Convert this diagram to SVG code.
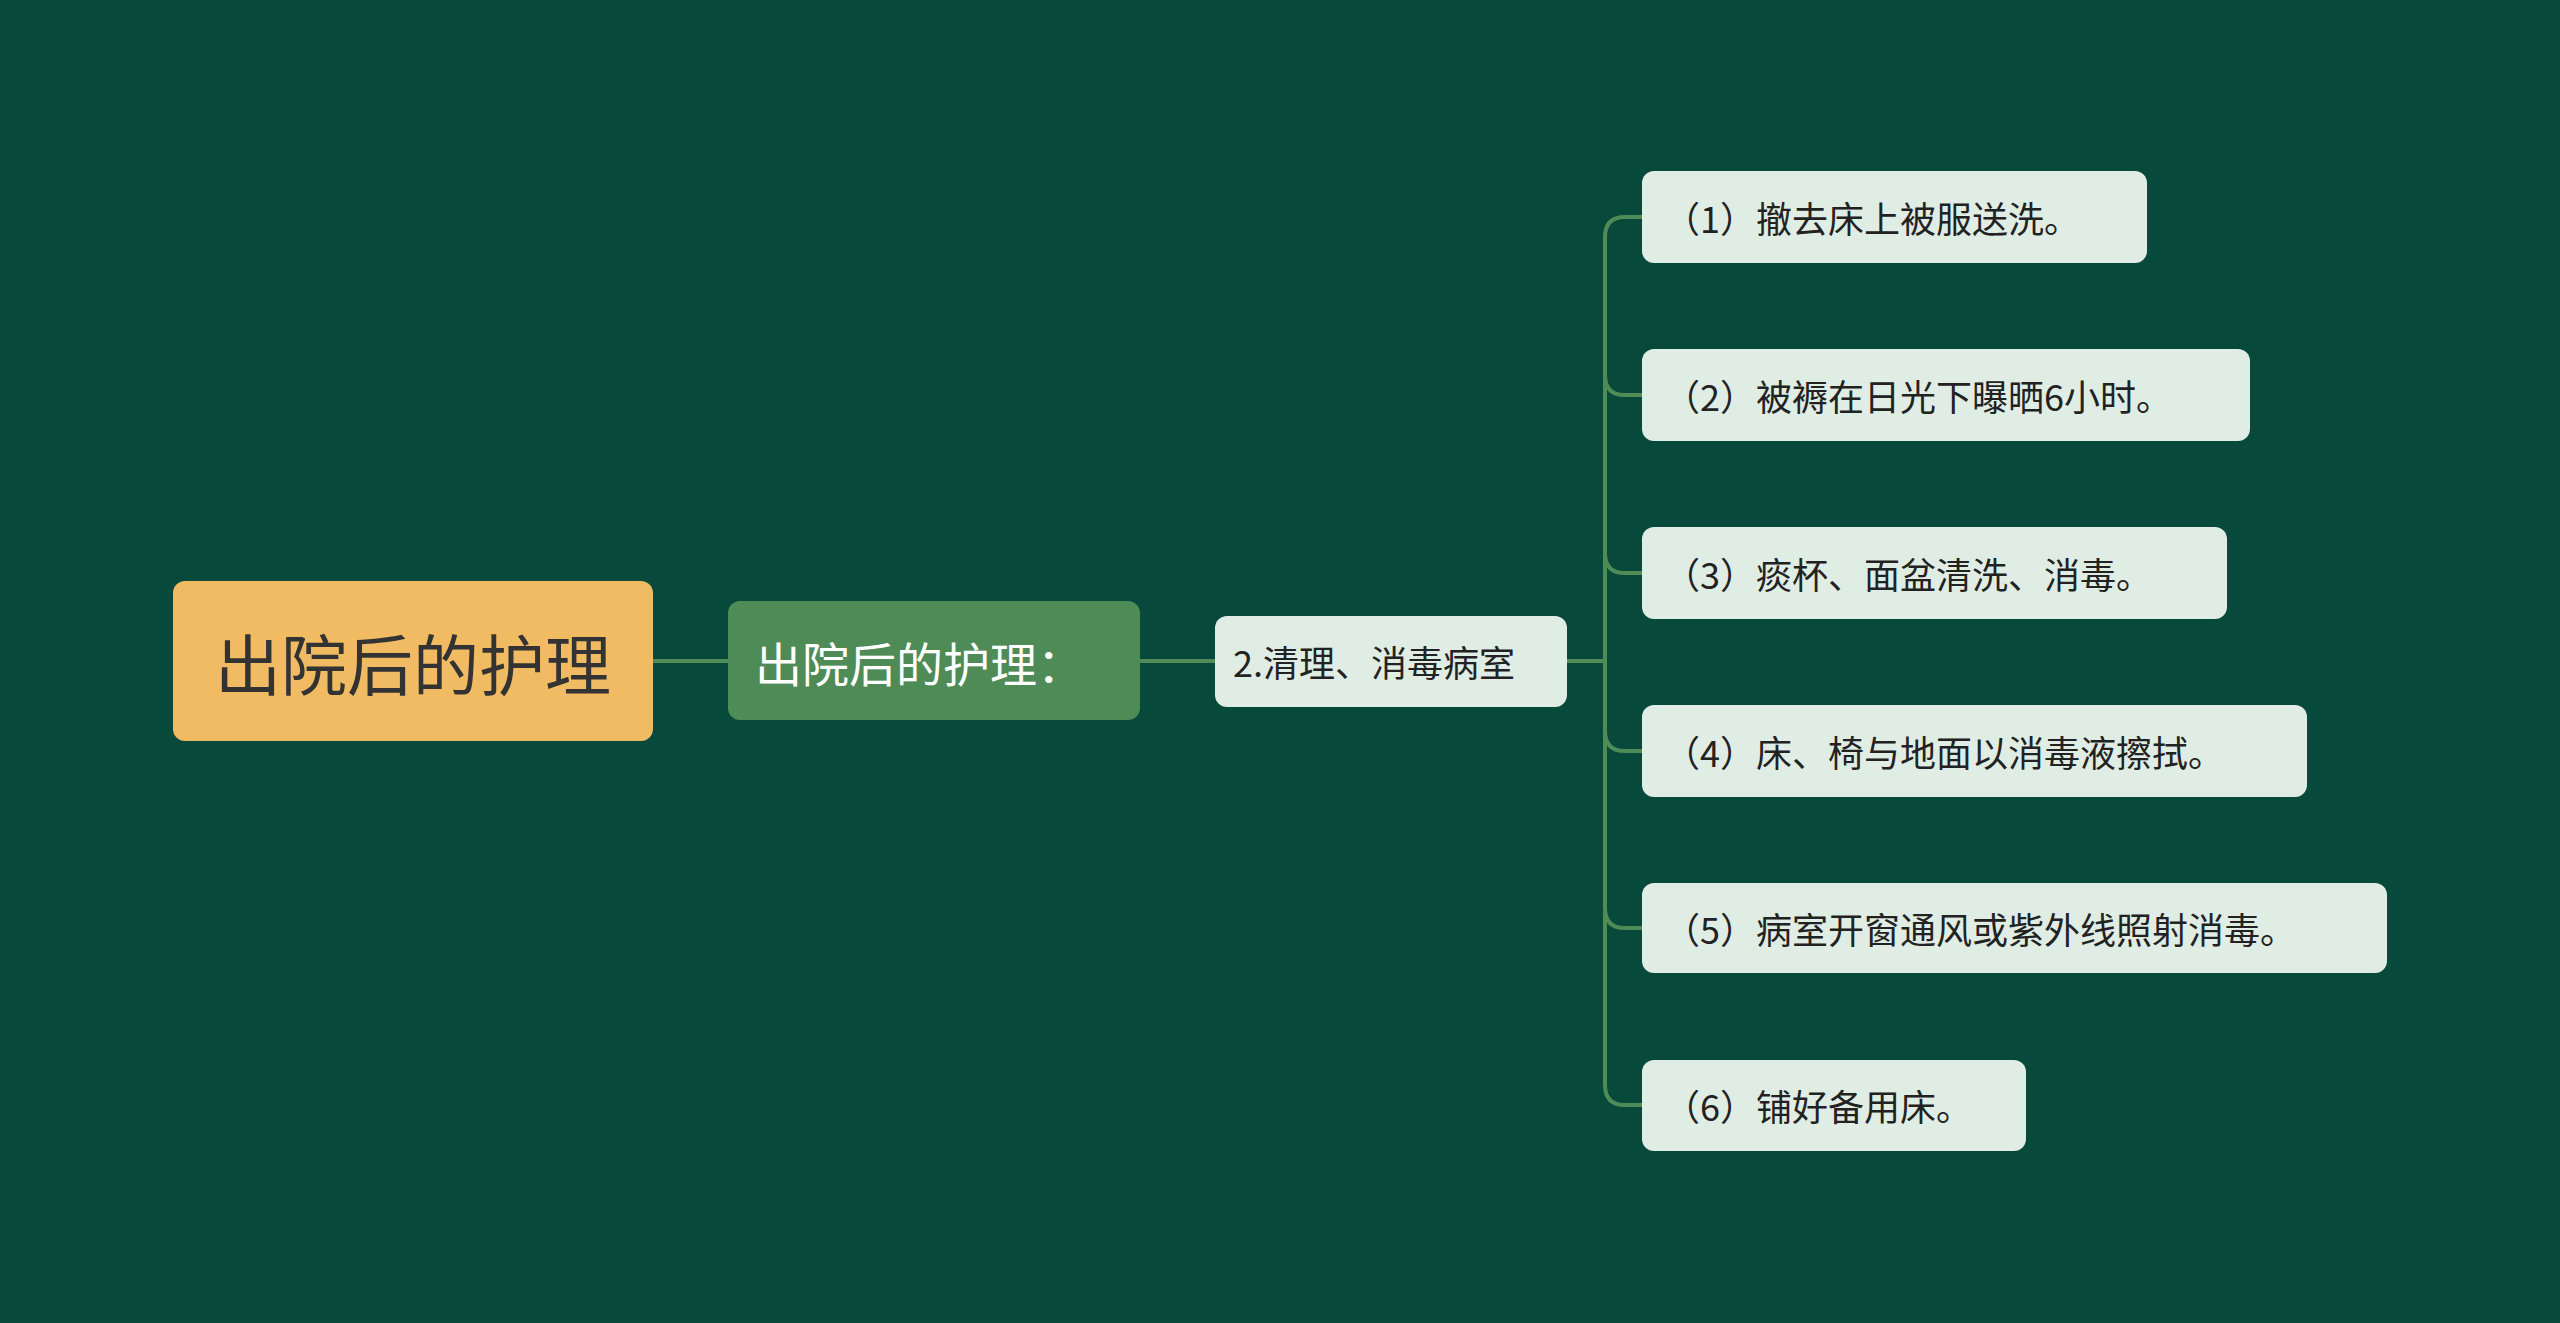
<svg xmlns="http://www.w3.org/2000/svg" width="2560" height="1323" viewBox="0 0 2560 1323">
<style>
.t{font-family:"Noto Sans CJK SC","Noto Sans",sans-serif;dominant-baseline:central}
.leaf rect{fill:#e0ede4}
.leaf text{font-size:36px;fill:#222}
.c{fill:none;stroke:#4e8b57;stroke-width:4}
</style>
<rect width="2560" height="1323" fill="#07493a"/>
<g id="connectors">
<path class="c" d="M653 661H728M1140 661H1215M1567 661H1605"/>
<path class="c" d="M1642 217H1625Q1605 217 1605 237V1085Q1605 1105 1625 1105H1642"/>
<path class="c" d="M1605 375Q1605 395 1625 395H1642M1605 553Q1605 573 1625 573H1642M1605 731Q1605 751 1625 751H1642M1605 908Q1605 928 1625 928H1642"/>
</g>
<g id="root"><rect x="173" y="581" width="480" height="160" rx="12" fill="#f0bb62"/><text class="t" x="413" y="661" text-anchor="middle" font-size="66" fill="#333">出院后的护理</text></g>
<g id="n1"><rect x="728" y="601" width="412" height="119" rx="12" fill="#4e8b57"/><text class="t" x="755" y="661" font-size="47" fill="#fff">出院后的护理：</text></g>
<g id="n2" class="leaf"><rect x="1215" y="616" width="352" height="91" rx="12"/><text class="t" x="1233" y="661">2.清理、消毒病室</text></g>
<g id="l1" class="leaf"><rect x="1642" y="171" width="505" height="92" rx="12"/><text class="t" x="1664" y="217">（1）撤去床上被服送洗。</text></g>
<g id="l2" class="leaf"><rect x="1642" y="349" width="608" height="92" rx="12"/><text class="t" x="1664" y="395">（2）被褥在日光下曝晒6小时。</text></g>
<g id="l3" class="leaf"><rect x="1642" y="527" width="585" height="92" rx="12"/><text class="t" x="1664" y="573">（3）痰杯、面盆清洗、消毒。</text></g>
<g id="l4" class="leaf"><rect x="1642" y="705" width="665" height="92" rx="12"/><text class="t" x="1664" y="751">（4）床、椅与地面以消毒液擦拭。</text></g>
<g id="l5" class="leaf"><rect x="1642" y="883" width="745" height="90" rx="12"/><text class="t" x="1664" y="928">（5）病室开窗通风或紫外线照射消毒。</text></g>
<g id="l6" class="leaf"><rect x="1642" y="1060" width="384" height="91" rx="12"/><text class="t" x="1664" y="1105">（6）铺好备用床。</text></g>
</svg>
